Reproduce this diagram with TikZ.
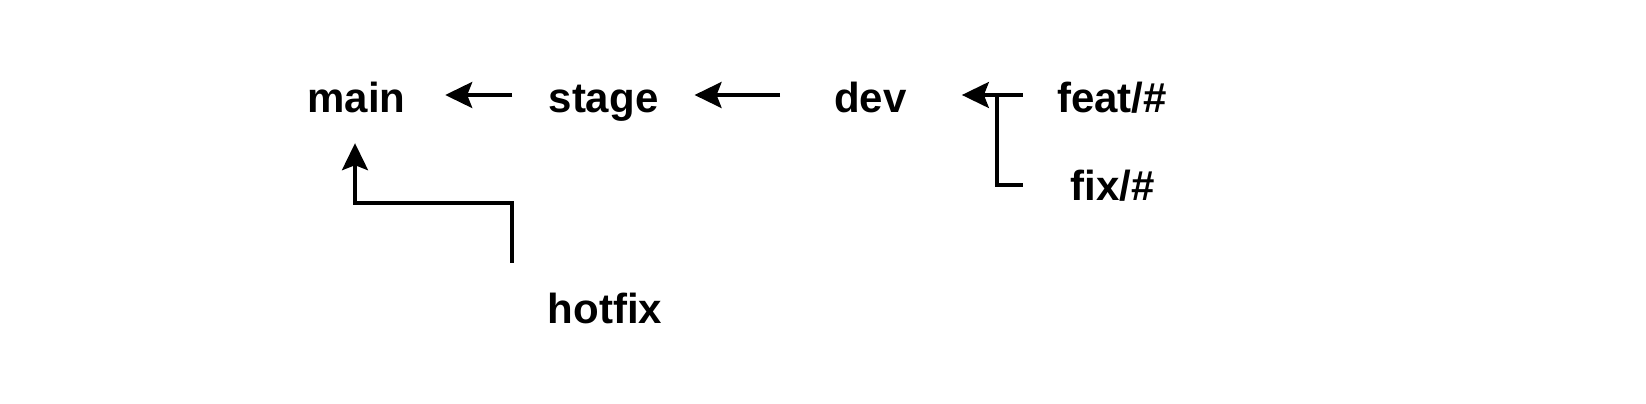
\documentclass[tikz,border=0pt]{standalone}
\usepackage{fontspec}
\setmainfont{Liberation Sans}
\usetikzlibrary{arrows.meta}
\begin{document}
\begin{tikzpicture}[x=1pt,y=-1pt,
  lbl/.style={font=\fontsize{42}{50}\selectfont\bfseries, inner sep=0pt, text height=34pt, text depth=0pt, anchor=base},
  link/.style={line width=3.4pt, draw=black},
  arr/.style={link, -{Stealth[length=27pt,width=26pt,inset=5pt]}}]
\useasboundingbox (0,0) rectangle (1646,404);
\node[lbl] (main) at (356.5,112) {main};
\node[lbl] (stage) at (603.5,112) {stage};
\node[lbl] (dev) at (870.5,112) {dev};
\node[lbl] (feat) at (1112,112) {feat/\#};
\node[lbl] (fix) at (1112.5,200) {fix/\#};
\node[lbl] (hotfix) at (605,323) {hotfix};
\draw[arr] ([xshift=-36pt]stage.west) -- ([xshift=39.5pt]main.east);
\draw[arr] ([xshift=-54pt]dev.west) -- ([xshift=36pt]stage.east);
\draw[arr] ([xshift=-34pt]feat.west) -- ([xshift=55pt]dev.east);
\draw[link] ([xshift=-47.5pt,yshift=-2pt]fix.west) -| ([xshift=-60pt]feat.west);
\draw[arr] ([xshift=-93pt,yshift=26pt]hotfix.north) -- ++(0,-60) -| ([xshift=-1.5pt,yshift=-31pt]main.south);
\end{tikzpicture}
\end{document}
